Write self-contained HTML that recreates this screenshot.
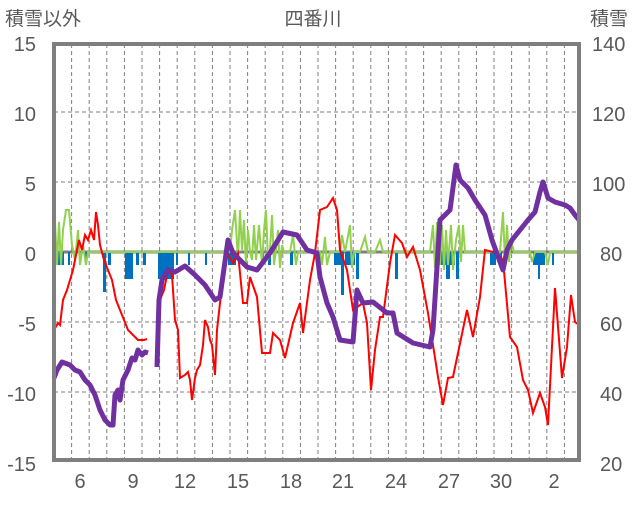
<!DOCTYPE html>
<html><head><meta charset="utf-8"><style>
body{margin:0;background:#fff;}
svg text{font-family:"Liberation Sans","Noto Sans CJK JP",sans-serif;fill:#595959;}
</style></head><body>
<svg width="636" height="501" viewBox="0 0 636 501" xmlns="http://www.w3.org/2000/svg">
<rect width="636" height="501" fill="#fff"/>
<text x="5" y="25" font-size="19">積雪以外</text>
<text x="313" y="25" font-size="19" text-anchor="middle">四番川</text>
<text x="590" y="25" font-size="19">積雪</text>
<g font-size="20" text-anchor="end">
<text x="36" y="51">15</text><text x="36" y="121">10</text><text x="36" y="191">5</text><text x="36" y="261">0</text>
<text x="36" y="331">-5</text><text x="36" y="401">-10</text><text x="36" y="471">-15</text>
</g>
<g font-size="20" text-anchor="start">
<text x="592" y="51">140</text><text x="592" y="121">120</text><text x="592" y="191">100</text><text x="600" y="261">80</text>
<text x="600" y="331">60</text><text x="600" y="401">40</text><text x="600" y="471">20</text>
</g>
<g font-size="20" text-anchor="middle">
<text x="80" y="488">6</text><text x="133" y="488">9</text><text x="185" y="488">12</text><text x="238" y="488">15</text>
<text x="291" y="488">18</text><text x="343" y="488">21</text><text x="396" y="488">24</text><text x="449" y="488">27</text>
<text x="501" y="488">30</text><text x="554" y="488">2</text>
</g>
<g stroke="#7f7f7f" stroke-width="1" stroke-dasharray="4,3">
<line x1="54" y1="112" x2="579" y2="112"/><line x1="54" y1="182" x2="579" y2="182"/>
<line x1="54" y1="322" x2="579" y2="322"/><line x1="54" y1="392" x2="579" y2="392"/>
<path d="M71.6 44V460M89.2 44V460M106.8 44V460M124.4 44V460M142 44V460M159.6 44V460M177.2 44V460M194.8 44V460M212.4 44V460M230 44V460M247.6 44V460M265.2 44V460M282.8 44V460M300.4 44V460M318 44V460M335.6 44V460M353.2 44V460M370.8 44V460M388.4 44V460M406 44V460M423.6 44V460M441.2 44V460M458.8 44V460M476.4 44V460M494 44V460M511.6 44V460M529.2 44V460M546.8 44V460M564.4 44V460"/>
</g>
<line x1="54" y1="252" x2="579" y2="252" stroke="#7f7f7f" stroke-width="3"/>
<g fill="#0070c0">
<rect x="56" y="252" width="8" height="13"/><rect x="68" y="252" width="2" height="13"/><rect x="85" y="252" width="2" height="13"/>
<rect x="103" y="252" width="3" height="40"/><rect x="108" y="252" width="3" height="13"/><rect x="125" y="252" width="8" height="27"/>
<rect x="136" y="252" width="3" height="13"/><rect x="143" y="252" width="3" height="13"/>
<rect x="158" y="252" width="16" height="27"/><rect x="176" y="252" width="2" height="13"/><rect x="188" y="252" width="2" height="13"/>
<rect x="205" y="252" width="2" height="13"/><rect x="228" y="252" width="8" height="13"/><rect x="262" y="252" width="2" height="13"/>
<rect x="268" y="252" width="3" height="13"/><rect x="290" y="252" width="3" height="13"/>
<rect x="334" y="252" width="8" height="13"/><rect x="341" y="252" width="3" height="43"/><rect x="345" y="252" width="10" height="13"/>
<rect x="356" y="252" width="3" height="27"/><rect x="395" y="252" width="3" height="27"/>
<rect x="435" y="252" width="20" height="13"/><rect x="446" y="252" width="4" height="27"/><rect x="456" y="252" width="3" height="27"/>
<rect x="490" y="252" width="6" height="13"/><rect x="500" y="252" width="2" height="13"/>
<rect x="533" y="252" width="12" height="13"/><rect x="538" y="252" width="2" height="27"/><rect x="552" y="252" width="2" height="13"/>
</g>
<polyline fill="none" stroke="#92d050" stroke-width="2" points="54,252 55,222 57,265 59,222 61,265 63,230 66,210 69,210 72,245 75,260 78,230 80,265 83,245 86,265 88,252 230,252 232,230 235,210 238,260 240,210 242,250 244,220 246,265 248,230 250,252 252,260 254,225 256,260 259,225 262,265 264,230 266,210 268,260 270,250 272,215 274,265 276,250 278,230 280,268 282,245 284,252 290,252 293,235 296,265 298,252 320,252 322,265 325,237 327,265 330,252 340,252 342,235 345,252 350,225 352,268 354,252 360,252 365,237 368,252 375,252 380,240 383,252 430,252 433,225 435,268 437,222 440,265 442,225 444,270 446,230 448,265 451,225 453,270 456,240 459,225 461,262 463,225 465,252 500,252 503,212 505,262 507,225 509,262 511,240 514,252 530,252 532,262 535,252 545,252 548,265 550,252 579,252"/>
<polyline fill="none" stroke="#ff0000" stroke-width="2" points="54,330 58,323 60,325 63,300 67,290 70,280 73,270 76,255 79,240 82,250 85,235 88,240 91,230 94,240 96,212 98,225 100,245 104,260 108,270 112,280 116,300 120,310 124,320 128,330 133,335 138,340 144,340 147,339"/>
<polyline fill="none" stroke="#ff0000" stroke-width="2" points="158,340 160,300 164,290 168,270 172,275 175,320 178,330 180,378 185,375 188,372 190,380 192,400 195,378 197,370 200,365 203,345 205,320 208,327 210,340 212,345 215,375 217,330 220,303 227,253 233,263 238,253 243,303 247,303 250,277 257,297 262,353 270,353 273,333 280,340 285,358 293,323 300,303 303,333 310,280 315,253 320,210 327,207 333,198 337,210 340,250 347,270 353,310 363,303 367,323 371,390 375,350 380,317 383,317 390,263 395,235 402,243 407,257 413,247 420,270 428,313 433,345 438,377 443,405 448,378 453,377 458,353 467,310 473,337 480,297 485,250 497,253 503,260 510,337 517,347 523,380 528,390 533,413 540,393 545,407 548,425 555,288 562,378 567,347 571,295 575,322 579,325"/>
<polyline fill="none" stroke="#7030a0" stroke-width="5" stroke-linejoin="round" points="54,378 57,370 62,362 70,365 75,370 80,372 85,380 90,385 95,395 100,410 105,420 110,425 113,425 115,395 118,390 120,400 123,380 128,370 132,358 135,360 138,350 142,355 145,352 148,353"/>
<polyline fill="none" stroke="#7030a0" stroke-width="5" stroke-linejoin="round" points="157,367 159,300 162,280 168,270 175,272 185,266 195,275 205,285 215,300 220,297 228,240 233,253 247,267 257,270 270,253 283,232 297,235 307,250 317,253 320,277 327,303 333,317 340,340 353,342 357,290 363,303 373,302 387,313 393,313 397,333 413,343 430,347 433,330 440,220 450,210 454,180 456,165 460,180 468,188 475,200 485,215 492,240 500,262 503,270 507,250 512,240 520,230 528,220 535,212 540,192 543,182 548,198 555,202 565,205 570,208 575,215 579,220"/>
<rect x="54" y="44" width="525" height="416" fill="none" stroke="#7f7f7f" stroke-width="4"/>
</svg>
</body></html>
